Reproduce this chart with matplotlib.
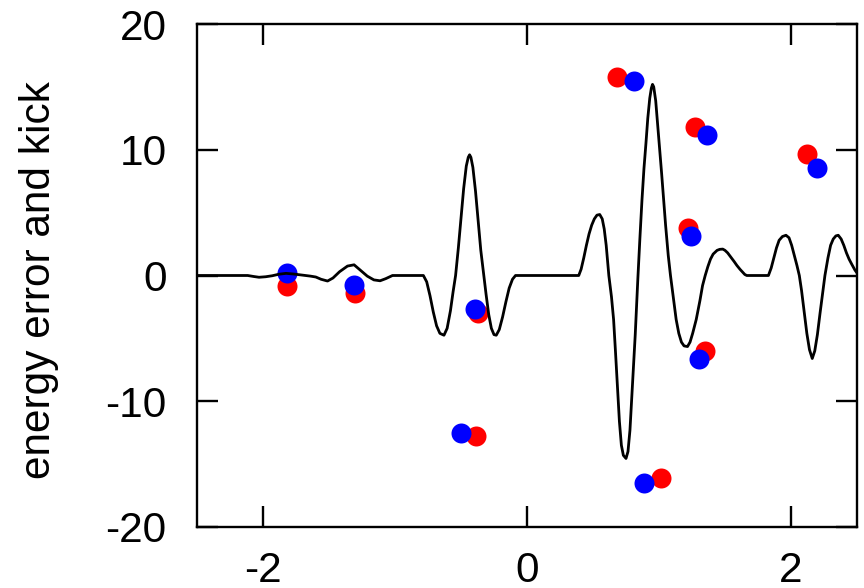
import matplotlib
matplotlib.use("Agg")
import matplotlib.pyplot as plt

plt.rcParams['font.family'] = ['Liberation Sans', 'DejaVu Sans']
plt.rcParams['axes.unicode_minus'] = False

# kick values at the sample positions (two runs)
x_red = [-1.818, -1.304, -0.389, -0.372, 0.682, 1.017, 1.216, 1.274, 1.352, 2.123]
y_red = [-0.83, -1.42, -12.76, -2.96, 15.81, -16.08, 3.75, 11.81, -5.98, 9.66]
x_blue = [-1.818, -1.310, -0.498, -0.397, 0.808, 0.883, 1.241, 1.367, 1.302, 2.199]
y_blue = [0.22, -0.76, -12.50, -2.69, 15.47, -16.53, 3.14, 11.15, -6.61, 8.57]

# energy error curve
x_err = [-2.5, -2.116, -2.07, -2.03, -1.98, -1.93, -1.88, -1.826, -1.77, -1.70,
         -1.64, -1.60, -1.56, -1.511, -1.47, -1.42, -1.36, -1.31, -1.26, -1.21,
         -1.16, -1.113, -1.07, -1.019, -0.785,
         -0.76, -0.735, -0.71, -0.685, -0.66, -0.629, -0.605, -0.58, -0.56, -0.541,
         -0.52, -0.50, -0.48, -0.46, -0.445, -0.435, -0.425, -0.41, -0.39, -0.37,
         -0.35, -0.327, -0.31, -0.29, -0.27, -0.25, -0.233, -0.21, -0.185, -0.16,
         -0.135, -0.11, -0.087, 0.392,
         0.41, 0.43, 0.45, 0.47, 0.49, 0.51, 0.53, 0.551, 0.57, 0.585,
         0.60, 0.62, 0.64, 0.656, 0.67, 0.682, 0.70, 0.715, 0.73, 0.750,
         0.765, 0.78, 0.80, 0.82, 0.84, 0.855, 0.871, 0.886, 0.901, 0.915,
         0.93, 0.942, 0.951, 0.96, 0.975, 0.99, 1.002, 1.02, 1.035, 1.05,
         1.07, 1.087, 1.11, 1.13, 1.15, 1.17, 1.19, 1.216, 1.235, 1.255,
         1.282, 1.31, 1.33, 1.35, 1.37, 1.39, 1.41, 1.44, 1.46, 1.483,
         1.50, 1.52, 1.545, 1.57, 1.59, 1.614, 1.635, 1.65, 1.665, 1.829,
         1.85, 1.87, 1.89, 1.91, 1.935, 1.962, 1.985, 2.005, 2.025, 2.045,
         2.063, 2.08, 2.10, 2.12, 2.14, 2.161, 2.18, 2.20, 2.22, 2.24,
         2.257, 2.28, 2.30, 2.32, 2.34, 2.358, 2.38, 2.40, 2.42, 2.44,
         2.46, 2.484, 2.5]
y_err = [0.0, 0.0, -0.08, -0.14, -0.10, -0.02, 0.10, 0.17, 0.12, 0.03,
         -0.05, -0.12, -0.30, -0.44, -0.20, 0.30, 0.75, 0.85, 0.40, -0.05,
         -0.35, -0.42, -0.25, 0.0, 0.0,
         -0.5, -1.6, -2.9, -4.0, -4.6, -4.75, -4.2, -2.8, -1.3, 0.0,
         2.2, 4.6, 6.9, 8.7, 9.4, 9.6, 9.4, 8.6, 6.7, 4.3,
         2.0, 0.0, -1.5, -3.1, -4.2, -4.7, -4.75, -4.3, -3.3, -2.1,
         -1.0, -0.3, 0.0, 0.0,
         0.5, 1.4, 2.4, 3.3, 4.0, 4.5, 4.8, 4.85, 4.5, 3.7,
         2.4, 0.0, -1.7, -3.5, -6.0, -8.3, -11.6, -13.5, -14.3, -14.55,
         -14.0, -12.3, -8.5, -4.7, -0.2, 2.9, 6.0, 8.5, 10.5, 12.5,
         14.1, 14.9, 15.2, 15.0, 13.9, 12.0, 10.5, 8.1, 6.0, 4.0,
         1.6, 0.0, -1.9, -3.5, -4.6, -5.3, -5.6, -5.65, -5.3, -4.6,
         -3.5, -2.0, -0.8, 0.0, 0.7, 1.3, 1.7, 2.0, 2.08, 2.1,
         2.0, 1.8, 1.45, 1.1, 0.8, 0.49, 0.25, 0.08, 0.0, 0.0,
         0.6, 1.4, 2.2, 2.8, 3.1, 3.2, 3.0, 2.4, 1.6, 0.8,
         0.0, -1.2, -2.9, -4.6, -5.9, -6.6, -6.0, -4.7, -3.0, -1.4,
         0.0, 1.4, 2.4, 2.9, 3.15, 3.2, 2.9, 2.4, 1.8, 1.3,
         0.9, 0.44, 0.2]

x_ticks = [-2, 0, 2]
y_ticks = [-20, -10, 0, 10, 20]

fig = plt.figure(figsize=(8.64, 5.88), dpi=100)
ax = fig.add_axes([197 / 864, 61 / 588, 660 / 864, 503 / 588])

ax.plot(x_red, y_red, 'o', color='#ff0000', markersize=14.4, markeredgewidth=0, zorder=2)
ax.plot(x_blue, y_blue, 'o', color='#0000ff', markersize=14.4, markeredgewidth=0, zorder=3)
ax.plot(x_err, y_err, '-', color='black', linewidth=2.0, zorder=4)

ax.set_xlim(-2.5, 2.5)
ax.set_ylim(-20, 20)
ax.set_xticks(x_ticks)
ax.set_yticks(y_ticks)
ax.tick_params(direction='in', length=15, width=1.7, labelsize=30.5,
               top=True, right=True)
ax.tick_params(axis='y', pad=22)
ax.tick_params(axis='x', pad=17)
for s in ax.spines.values():
    s.set_linewidth(1.7)

ax.set_ylabel('energy error and kick', fontsize=30.5)
ax.yaxis.set_label_coords(-0.209, 0.49)

fig.savefig('out.png', dpi=100)
